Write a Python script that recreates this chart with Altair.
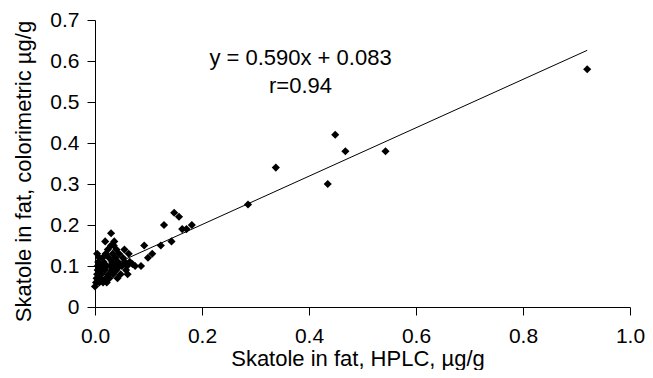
import altair as alt
import pandas as pd

# HPLC skatole (x) vs colorimetric skatole (y), µg/g
hplc = [0.000, 0.002, 0.003, 0.004, 0.005, 0.005, 0.006, 0.004, 0.008, 0.008,
        0.010, 0.010, 0.012, 0.012, 0.014, 0.015, 0.016, 0.018, 0.019, 0.020,
        0.020, 0.022, 0.022, 0.024, 0.025, 0.026, 0.027, 0.028, 0.030, 0.030,
        0.031, 0.032, 0.033, 0.034, 0.035, 0.036, 0.037, 0.038, 0.040, 0.040,
        0.042, 0.043, 0.045, 0.046, 0.048, 0.050, 0.052, 0.055, 0.056, 0.058,
        0.060, 0.061, 0.063, 0.065, 0.070, 0.075, 0.086, 0.092, 0.099, 0.107,
        0.123, 0.129, 0.143, 0.148, 0.157, 0.163, 0.171, 0.181,
        0.286, 0.338, 0.435, 0.449, 0.468, 0.543, 0.920]
color = [0.050, 0.060, 0.070, 0.080, 0.090, 0.100, 0.110, 0.130, 0.120, 0.060,
         0.070, 0.090, 0.100, 0.080, 0.120, 0.060, 0.110, 0.090, 0.160, 0.070,
         0.130, 0.100, 0.060, 0.140, 0.080, 0.120, 0.070, 0.100, 0.180, 0.150,
         0.090, 0.110, 0.130, 0.080, 0.150, 0.160, 0.100, 0.120, 0.140, 0.090,
         0.070, 0.110, 0.130, 0.100, 0.080, 0.100, 0.120, 0.140, 0.110, 0.090,
         0.100, 0.080, 0.130, 0.110, 0.105, 0.100, 0.100, 0.150, 0.120, 0.130,
         0.150, 0.200, 0.160, 0.230, 0.220, 0.190, 0.190, 0.200,
         0.250, 0.340, 0.300, 0.420, 0.380, 0.380, 0.580]

# regression line endpoints
line_x = [0.0, 0.92]
line_y = [0.083, 0.626]

x_ticks = [0.0, 0.2, 0.4, 0.6, 0.8, 1.0]
y_ticks = [0.0, 0.1, 0.2, 0.3, 0.4, 0.5, 0.6, 0.7]

equation = "y = 0.590x + 0.083"
r_text = "r=0.94"

pts = pd.DataFrame({"x": hplc, "y": color})
ln = pd.DataFrame({"x": line_x, "y": line_y})

FONT = "Liberation Sans"

xscale = alt.Scale(domain=[0, 1], nice=False, zero=True)
yscale = alt.Scale(domain=[0, 0.7], nice=False, zero=True)

xaxis = alt.Axis(
    title="Skatole in fat, HPLC, µg/g",
    values=x_ticks, format=".1f", grid=False, labelFlush=False, labelOverlap=False,
    domainColor="black", tickColor="black", tickSize=8, labelPadding=10,
    labelFontSize=21, labelColor="black", labelFont=FONT,
    titleFontSize=22, titleFont=FONT, titleColor="black", titleFontWeight="normal",
    titleX=262.5, titleY=58, titleBaseline="alphabetic", titleAnchor="start", titleAlign="center",
)
yaxis = alt.Axis(
    title="Skatole in fat, colorimetric µg/g",
    values=y_ticks, grid=False, labelFlush=False, labelOverlap=False,
    labelExpr="datum.value == 0 ? '0' : format(datum.value, '.1f')",
    domainColor="black", tickColor="black", tickSize=8, labelPadding=8,
    labelFontSize=21, labelColor="black", labelFont=FONT,
    titleFontSize=22, titleFont=FONT, titleColor="black", titleFontWeight="normal",
    titleX=-64.3, titleY=151, titleBaseline="alphabetic", titleAngle=-90, titleAlign="center",
)

points = alt.Chart(pts).mark_point(shape="diamond", filled=True, color="black", size=66, opacity=1).encode(
    x=alt.X("x:Q", scale=xscale, axis=xaxis),
    y=alt.Y("y:Q", scale=yscale, axis=yaxis),
)

line = alt.Chart(ln).mark_line(color="black", strokeWidth=1).encode(
    x=alt.X("x:Q", scale=xscale),
    y=alt.Y("y:Q", scale=yscale),
)

txt1 = alt.Chart(pd.DataFrame({"t": [equation]})).mark_text(
    font=FONT, fontSize=22, color="black", align="center", baseline="alphabetic"
).encode(x=alt.value(205.5), y=alt.value(45), text="t:N")

txt2 = alt.Chart(pd.DataFrame({"t": [r_text]})).mark_text(
    font=FONT, fontSize=22, color="black", align="center", baseline="alphabetic"
).encode(x=alt.value(205.5), y=alt.value(73), text="t:N")

chart = alt.layer(line, points, txt1, txt2).properties(
    width=535, height=287,
    autosize=alt.AutoSizeParams(type="none"),
    padding={"left": 87, "top": 12, "right": 15, "bottom": 63},
    background="white",
).configure_view(stroke=None)

chart.save("out.html", embed_options={"renderer": "svg", "actions": False})
